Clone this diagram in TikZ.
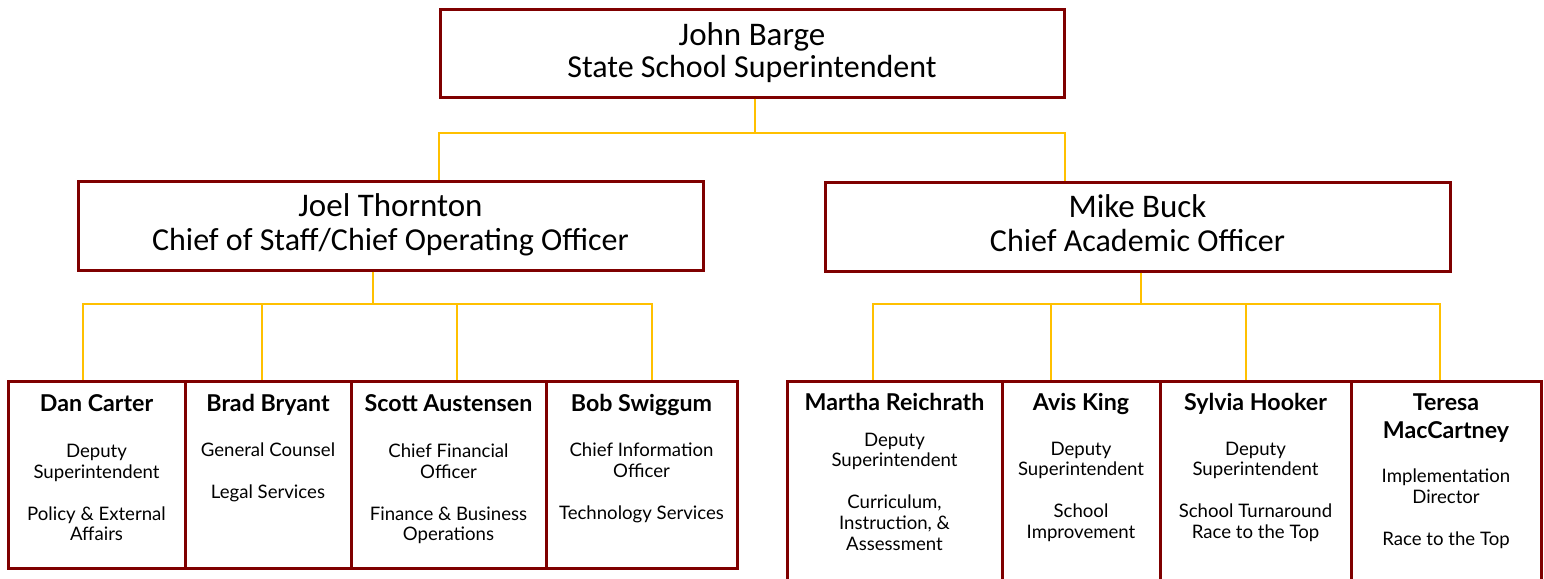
\documentclass[tikz,border=0pt]{standalone}
\usepackage{fontspec}
\setmainfont{Carlito}
\newfontfamily\botfont{Lato}
\definecolor{boxred}{HTML}{7F0000}
\definecolor{conngold}{HTML}{FFC000}
\begin{document}
\begin{tikzpicture}[x=0.5pt,y=-0.5pt,
  box/.style={draw=boxred, line width=1.5pt, inner sep=0pt},
  conn/.style={draw=conngold, line width=1pt},
  topname/.style={font=\fontsize{16.5}{18}\selectfont, anchor=base},
  toprole/.style={font=\fontsize{16}{18}\selectfont, anchor=base},
  sname/.style={font=\botfont\bfseries\fontsize{11.6}{14.15}\selectfont, anchor=base, align=center},
  sdesc/.style={font=\botfont\fontsize{9.3}{10.35}\selectfont, anchor=base, align=center}]
\useasboundingbox (0,0) rectangle (1544,579);
\clip (0,0) rectangle (1544,579);
% boxes
\node[box, minimum width=312pt, minimum height=44pt] (top) at (752,53) {};
\node[box, minimum width=312.5pt, minimum height=44.5pt] (joel) at (390.5,225.5) {};
\node[box, minimum width=312.5pt, minimum height=44.5pt] (mike) at (1137.5,226.5) {};
\node[box, minimum width=88.5pt, minimum height=93.5pt] (dan) at (96.5,474.5) {};
\node[box, minimum width=83pt, minimum height=93.5pt] (brad) at (268,474.5) {};
\node[box, minimum width=97.5pt, minimum height=93.5pt] (scott) at (448.5,474.5) {};
\node[box, minimum width=95.5pt, minimum height=93.5pt] (bob) at (641.5,474.5) {};
\node[box, minimum width=107.5pt, minimum height=114.5pt] (martha) at (894.5,495.5) {};
\node[box, minimum width=79pt, minimum height=114.5pt] (avis) at (1081,495.5) {};
\node[box, minimum width=95.5pt, minimum height=114.5pt] (sylvia) at (1255.5,495.5) {};
\node[box, minimum width=95pt, minimum height=114.5pt] (teresa) at (1446,495.5) {};
% connectors
\coordinate (b0) at (755,133);
\draw[conn] (top.south -| b0) -- (b0);
\draw[conn] (joel.north -| 439,0) |- (b0) -| (mike.north -| 1065,0);
\coordinate (b1) at (373,304);
\draw[conn] (joel.south -| b1) -- (b1);
\draw[conn] (dan.north -| 83,0) |- (b1) -| (bob.north -| 652,0);
\draw[conn] (brad.north -| 262,0) -- (262,304);
\draw[conn] (scott.north -| 457,0) -- (457,304);
\coordinate (b2) at (1141,304);
\draw[conn] (mike.south -| b2) -- (b2);
\draw[conn] (martha.north -| 873,0) |- (b2) -| (teresa.north -| 1440,0);
\draw[conn] (avis.north -| 1051,0) -- (1051,304);
\draw[conn] (sylvia.north -| 1246,0) -- (1246,304);
% top texts
\node[topname] (topn) at (752,45) {John Barge};
\node[toprole] (topr) at (752,77) {State School Superintendent};
\node[topname] (joeln) at (390.5,216.7) {Joel Thornton};
\node[toprole] (joelr) at (390.5,250) {Chief of Staff/Chief Operating Officer};
\node[topname] (miken) at (1137.5,217.5) {Mike Buck};
\node[toprole] (miker) at (1137.5,251) {Chief Academic Officer};
% bottom left (anchor = baseline of last line)
\node[sname] (dann) at (96.5,411.7) {Dan Carter};
\node[sdesc] (dand) at (96.5,540.7) {Deputy\\Superintendent\\[10.5pt]Policy \& External\\Affairs};
\node[sname] (bradn) at (268,411.7) {Brad Bryant};
\node[sdesc] (bradd) at (268,498) {General Counsel\\[10.5pt]Legal Services};
\node[sname] (scottn) at (448.5,411.7) {Scott Austensen};
\node[sdesc] (scottd) at (448.5,540.7) {Chief Financial\\Officer\\[10.5pt]Finance \& Business\\Operations};
\node[sname] (bobn) at (641.5,411.7) {Bob Swiggum};
\node[sdesc] (bobd) at (641.5,519) {Chief Information\\Officer\\[10.5pt]Technology Services};
% bottom right
\node[sname] (marthan) at (894.5,410.7) {Martha Reichrath};
\node[sdesc] (marthad) at (894.5,550) {Deputy\\Superintendent\\[10.5pt]Curriculum,\\Instruction, \&\\Assessment};
\node[sname] (avisn) at (1081,410.7) {Avis King};
\node[sdesc] (avisd) at (1081,538.3) {Deputy\\Superintendent\\[10.5pt]School\\Improvement};
\node[sname] (sylvian) at (1255.5,410.7) {Sylvia Hooker};
\node[sdesc] (sylviad) at (1255.5,538.3) {Deputy\\Superintendent\\[10.5pt]School Turnaround\\Race to the Top};
\node[sname] (teresan) at (1446,438.3) {Teresa\\MacCartney};
\node[sdesc] (teresad) at (1446,545) {Implementation\\Director\\[10.5pt]Race to the Top};
\end{tikzpicture}
\end{document}
